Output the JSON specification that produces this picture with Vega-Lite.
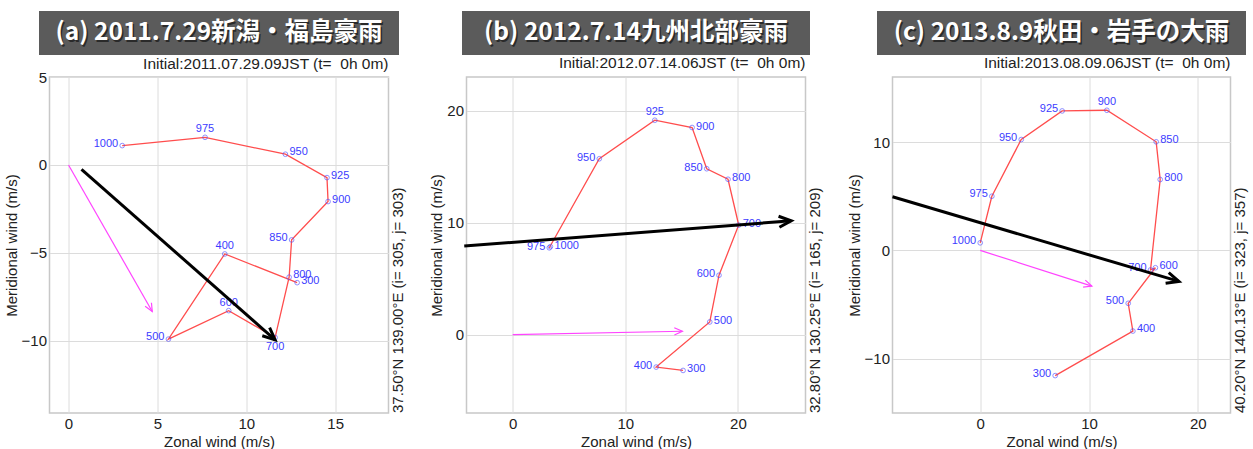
{
  "$schema": "https://vega.github.io/schema/vega-lite/v6.json",
  "background": "white",
  "padding": {"top": 11, "left": 3, "right": 0, "bottom": 0},
  "config": {
    "font": "Liberation Sans",
    "view": {"stroke": "#c8c8c8", "strokeWidth": 1.5},
    "axis": {"grid": true, "gridColor": "#dcdcdc", "gridWidth": 1, "domain": false, "ticks": false, "labelFont": "Liberation Sans", "labelFontSize": 15, "labelColor": "#222222", "titleFont": "Liberation Sans", "titleFontSize": 15, "titleFontWeight": "normal", "titleColor": "#222222", "labelPadding": 3},
    "axisX": {"titlePadding": 3},
    "axisY": {"titlePadding": 2},
    "title": {"font": "Liberation Sans", "fontSize": 15.5, "fontWeight": "normal", "color": "#222222", "anchor": "end", "frame": "group", "offset": 5.5}
  },
  "datasets": {
    "levels": [
      {"panel": "a", "p": 1000, "u": 3.02, "v": 1.10},
      {"panel": "a", "p": 975, "u": 7.68, "v": 1.57},
      {"panel": "a", "p": 950, "u": 12.2, "v": 0.61},
      {"panel": "a", "p": 925, "u": 14.54, "v": -0.72},
      {"panel": "a", "p": 900, "u": 14.6, "v": -2.08},
      {"panel": "a", "p": 850, "u": 12.55, "v": -4.26},
      {"panel": "a", "p": 800, "u": 12.41, "v": -6.38},
      {"panel": "a", "p": 700, "u": 11.62, "v": -9.81},
      {"panel": "a", "p": 600, "u": 9.01, "v": -8.28},
      {"panel": "a", "p": 500, "u": 5.62, "v": -9.9},
      {"panel": "a", "p": 400, "u": 8.79, "v": -5.06},
      {"panel": "a", "p": 300, "u": 12.86, "v": -6.69},
      {"panel": "b", "p": 1000, "u": 3.35, "v": 7.85},
      {"panel": "b", "p": 975, "u": 3.25, "v": 7.75},
      {"panel": "b", "p": 950, "u": 7.69, "v": 15.7},
      {"panel": "b", "p": 925, "u": 12.62, "v": 19.14},
      {"panel": "b", "p": 900, "u": 15.93, "v": 18.49},
      {"panel": "b", "p": 850, "u": 17.23, "v": 14.81},
      {"panel": "b", "p": 800, "u": 19.12, "v": 13.87},
      {"panel": "b", "p": 700, "u": 20.07, "v": 9.78},
      {"panel": "b", "p": 600, "u": 18.32, "v": 5.3},
      {"panel": "b", "p": 500, "u": 17.5, "v": 1.13},
      {"panel": "b", "p": 400, "u": 12.74, "v": -2.9},
      {"panel": "b", "p": 300, "u": 15.13, "v": -3.2},
      {"panel": "c", "p": 1000, "u": 0.0, "v": 0.7},
      {"panel": "c", "p": 975, "u": 1.07, "v": 5.0},
      {"panel": "c", "p": 950, "u": 3.77, "v": 10.23},
      {"panel": "c", "p": 925, "u": 7.53, "v": 12.87},
      {"panel": "c", "p": 900, "u": 11.64, "v": 12.93},
      {"panel": "c", "p": 850, "u": 16.17, "v": 10.02},
      {"panel": "c", "p": 800, "u": 16.54, "v": 6.54},
      {"panel": "c", "p": 700, "u": 15.65, "v": -1.8},
      {"panel": "c", "p": 600, "u": 16.1, "v": -1.6},
      {"panel": "c", "p": 500, "u": 13.6, "v": -4.88},
      {"panel": "c", "p": 400, "u": 14.03, "v": -7.44},
      {"panel": "c", "p": 300, "u": 6.89, "v": -11.55}
    ],
    "arrows": [
      {"panel": "a", "kind": "shear", "u": 0.73, "v": -0.25, "u2": 11.62, "v2": -9.94, "dir": 131.7},
      {"panel": "a", "kind": "storm", "u": 0, "v": 0, "u2": 4.71, "v2": -8.33, "dir": 150.5},
      {"panel": "b", "kind": "shear", "u": -4.3, "v": 7.9, "u2": 24.73, "v2": 10.16, "dir": 85.5},
      {"panel": "b", "kind": "storm", "u": 0, "v": 0, "u2": 15.07, "v2": 0.3, "dir": 88.9},
      {"panel": "c", "kind": "shear", "u": -8.06, "v": 4.95, "u2": 18.26, "v2": -2.86, "dir": 106.5},
      {"panel": "c", "kind": "storm", "u": 0, "v": 0, "u2": 10.26, "v2": -3.29, "dir": 107.8}
    ]
  },
  "spacing": 22,
  "hconcat": [
    {
      "vconcat": [
        {
          "width": 360, "height": 44,
          "view": {"fill": "#5b5b5b", "stroke": null},
          "data": {"values": [{"t": "(a) 2011.7.29新潟・福島豪雨"}]},
          "layer": [
            {"mark": {"type": "text", "font": "Noto Sans CJK JP", "fontWeight": "bold", "fontSize": 24.5, "color": "#1e1e1e", "dx": 1.5, "dy": 1.5, "opacity": 0.8}, "encoding": {"text": {"field": "t"}}},
            {"mark": {"type": "text", "font": "Noto Sans CJK JP", "fontWeight": "bold", "fontSize": 24.5, "color": "#ffffff"}, "encoding": {"text": {"field": "t"}}}
          ]
        },
        {
          "width": 339, "height": 336,
          "title": {"text": "Initial:2011.07.29.09JST (t= \u00a00h 0m)", "offset": -2},
          "layer": [
            {
              "data": {"name": "levels"}, "transform": [{"filter": "datum.panel == 'a'"}],
              "mark": {"type": "line", "color": "#ff4d4d", "strokeWidth": 1.3},
              "encoding": {
                "x": {"field": "u", "type": "quantitative", "title": "Zonal wind (m/s)", "scale": {"domain": [-1.07, 18], "nice": false, "zero": false}, "axis": {"values": [0, 5, 10, 15]}},
                "y": {"field": "v", "type": "quantitative", "title": "Meridional wind (m/s)", "scale": {"domain": [-14.1, 5], "nice": false, "zero": false}, "axis": {"values": [-10, -5, 0, 5]}},
                "order": {"field": "p", "sort": "descending"}
              }
            },
            {
              "data": {"name": "levels"}, "transform": [{"filter": "datum.panel == 'a'"}],
              "mark": {"type": "point", "color": "#5050ff", "size": 22, "strokeWidth": 0.9, "filled": false},
              "encoding": {"x": {"field": "u", "type": "quantitative", "title": "Zonal wind (m/s)"}, "y": {"field": "v", "type": "quantitative", "title": "Meridional wind (m/s)"}}
            },
            {
              "data": {"name": "levels"}, "transform": [{"filter": "datum.panel == 'a'"}, {"filter": {"field": "p", "oneOf": [1000, 850, 500]}}],
              "mark": {"type": "text", "color": "#3c3cff", "fontSize": 11, "align": "right", "baseline": "middle", "dx": -4, "dy": -2},
              "encoding": {"x": {"field": "u", "type": "quantitative", "title": "Zonal wind (m/s)"}, "y": {"field": "v", "type": "quantitative", "title": "Meridional wind (m/s)"}, "text": {"field": "p"}}
            },
            {
              "data": {"name": "levels"}, "transform": [{"filter": "datum.panel == 'a'"}, {"filter": {"field": "p", "oneOf": [950, 925, 900, 800, 300]}}],
              "mark": {"type": "text", "color": "#3c3cff", "fontSize": 11, "align": "left", "baseline": "middle", "dx": 4, "dy": -2},
              "encoding": {"x": {"field": "u", "type": "quantitative", "title": "Zonal wind (m/s)"}, "y": {"field": "v", "type": "quantitative", "title": "Meridional wind (m/s)"}, "text": {"field": "p"}}
            },
            {
              "data": {"name": "levels"}, "transform": [{"filter": "datum.panel == 'a'"}, {"filter": {"field": "p", "oneOf": [975, 400, 600]}}],
              "mark": {"type": "text", "color": "#3c3cff", "fontSize": 11, "align": "center", "baseline": "bottom", "dy": -3},
              "encoding": {"x": {"field": "u", "type": "quantitative", "title": "Zonal wind (m/s)"}, "y": {"field": "v", "type": "quantitative", "title": "Meridional wind (m/s)"}, "text": {"field": "p"}}
            },
            {
              "data": {"name": "levels"}, "transform": [{"filter": "datum.panel == 'a'"}, {"filter": {"field": "p", "oneOf": [700]}}],
              "mark": {"type": "text", "color": "#3c3cff", "fontSize": 11, "align": "center", "baseline": "top", "dy": 3},
              "encoding": {"x": {"field": "u", "type": "quantitative", "title": "Zonal wind (m/s)"}, "y": {"field": "v", "type": "quantitative", "title": "Meridional wind (m/s)"}, "text": {"field": "p"}}
            },
            {
              "data": {"name": "arrows"}, "transform": [{"filter": "datum.panel == 'a'"}],
              "mark": {"type": "rule"},
              "encoding": {
                "x": {"field": "u", "type": "quantitative", "title": "Zonal wind (m/s)"}, "y": {"field": "v", "type": "quantitative", "title": "Meridional wind (m/s)"},
                "x2": {"field": "u2"}, "y2": {"field": "v2"},
                "color": {"field": "kind", "type": "nominal", "scale": {"domain": ["shear", "storm"], "range": ["#000000", "#ff44ff"]}, "legend": null},
                "strokeWidth": {"field": "kind", "type": "ordinal", "scale": {"domain": ["shear", "storm"], "range": [3, 1.2]}, "legend": null}
              }
            },
            {
              "data": {"name": "arrows"}, "transform": [{"filter": "datum.panel == 'a'"}],
              "mark": {"type": "point", "shape": "M-0.45,1L0,0L0.45,1", "filled": false, "opacity": 1},
              "encoding": {
                "x": {"field": "u2", "type": "quantitative", "title": "Zonal wind (m/s)"}, "y": {"field": "v2", "type": "quantitative", "title": "Meridional wind (m/s)"},
                "angle": {"field": "dir", "type": "quantitative", "scale": null},
                "color": {"field": "kind", "type": "nominal", "scale": {"domain": ["shear", "storm"], "range": ["#000000", "#ff44ff"]}, "legend": null},
                "strokeWidth": {"field": "kind", "type": "ordinal", "scale": {"domain": ["shear", "storm"], "range": [3, 1.2]}, "legend": null},
                "size": {"field": "kind", "type": "ordinal", "scale": {"domain": ["shear", "storm"], "range": [600, 260]}, "legend": null}
              }
            },
            {
              "data": {"values": [{"loc": "37.50°N 139.00°E (i= 305, j= 303)"}]},
              "mark": {"type": "text", "angle": 270, "align": "left", "baseline": "top", "dy": 2, "fontSize": 15, "color": "#222222"},
              "encoding": {"x": {"datum": 18, "type": "quantitative"}, "y": {"datum": -14.1, "type": "quantitative"}, "text": {"field": "loc"}}
            }
          ]
        }
      ],
      "spacing": 22, "center": true, "bounds": "flush"
    },
    {
      "vconcat": [
        {
          "width": 348, "height": 44,
          "view": {"fill": "#5b5b5b", "stroke": null},
          "data": {"values": [{"t": "(b) 2012.7.14九州北部豪雨"}]},
          "layer": [
            {"mark": {"type": "text", "font": "Noto Sans CJK JP", "fontWeight": "bold", "fontSize": 24.5, "color": "#1e1e1e", "dx": 1.5, "dy": 1.5, "opacity": 0.8}, "encoding": {"text": {"field": "t"}}},
            {"mark": {"type": "text", "font": "Noto Sans CJK JP", "fontWeight": "bold", "fontSize": 24.5, "color": "#ffffff"}, "encoding": {"text": {"field": "t"}}}
          ]
        },
        {
          "width": 339, "height": 336,
          "title": {"text": "Initial:2012.07.14.06JST (t= \u00a00h 0m)"},
          "layer": [
            {
              "data": {"name": "levels"}, "transform": [{"filter": "datum.panel == 'b'"}],
              "mark": {"type": "line", "color": "#ff4d4d", "strokeWidth": 1.3},
              "encoding": {
                "x": {"field": "u", "type": "quantitative", "title": "Zonal wind (m/s)", "scale": {"domain": [-4.1, 26], "nice": false, "zero": false}, "axis": {"values": [0, 10, 20]}},
                "y": {"field": "v", "type": "quantitative", "title": "Meridional wind (m/s)", "scale": {"domain": [-7, 23], "nice": false, "zero": false}, "axis": {"values": [0, 10, 20]}},
                "order": {"field": "p", "sort": "descending"}
              }
            },
            {
              "data": {"name": "levels"}, "transform": [{"filter": "datum.panel == 'b'"}],
              "mark": {"type": "point", "color": "#5050ff", "size": 22, "strokeWidth": 0.9, "filled": false},
              "encoding": {"x": {"field": "u", "type": "quantitative", "title": "Zonal wind (m/s)"}, "y": {"field": "v", "type": "quantitative", "title": "Meridional wind (m/s)"}}
            },
            {
              "data": {"name": "levels"}, "transform": [{"filter": "datum.panel == 'b'"}, {"filter": {"field": "p", "oneOf": [975, 950, 850, 600, 400]}}],
              "mark": {"type": "text", "color": "#3c3cff", "fontSize": 11, "align": "right", "baseline": "middle", "dx": -4, "dy": -1},
              "encoding": {"x": {"field": "u", "type": "quantitative", "title": "Zonal wind (m/s)"}, "y": {"field": "v", "type": "quantitative", "title": "Meridional wind (m/s)"}, "text": {"field": "p"}}
            },
            {
              "data": {"name": "levels"}, "transform": [{"filter": "datum.panel == 'b'"}, {"filter": {"field": "p", "oneOf": [1000, 900, 800, 700, 500, 300]}}],
              "mark": {"type": "text", "color": "#3c3cff", "fontSize": 11, "align": "left", "baseline": "middle", "dx": 4, "dy": -1},
              "encoding": {"x": {"field": "u", "type": "quantitative", "title": "Zonal wind (m/s)"}, "y": {"field": "v", "type": "quantitative", "title": "Meridional wind (m/s)"}, "text": {"field": "p"}}
            },
            {
              "data": {"name": "levels"}, "transform": [{"filter": "datum.panel == 'b'"}, {"filter": {"field": "p", "oneOf": [925]}}],
              "mark": {"type": "text", "color": "#3c3cff", "fontSize": 11, "align": "center", "baseline": "bottom", "dy": -3},
              "encoding": {"x": {"field": "u", "type": "quantitative", "title": "Zonal wind (m/s)"}, "y": {"field": "v", "type": "quantitative", "title": "Meridional wind (m/s)"}, "text": {"field": "p"}}
            },
            {
              "data": {"name": "arrows"}, "transform": [{"filter": "datum.panel == 'b'"}],
              "mark": {"type": "rule"},
              "encoding": {
                "x": {"field": "u", "type": "quantitative", "title": "Zonal wind (m/s)"}, "y": {"field": "v", "type": "quantitative", "title": "Meridional wind (m/s)"},
                "x2": {"field": "u2"}, "y2": {"field": "v2"},
                "color": {"field": "kind", "type": "nominal", "scale": {"domain": ["shear", "storm"], "range": ["#000000", "#ff44ff"]}, "legend": null},
                "strokeWidth": {"field": "kind", "type": "ordinal", "scale": {"domain": ["shear", "storm"], "range": [3, 1.2]}, "legend": null}
              }
            },
            {
              "data": {"name": "arrows"}, "transform": [{"filter": "datum.panel == 'b'"}],
              "mark": {"type": "point", "shape": "M-0.45,1L0,0L0.45,1", "filled": false, "opacity": 1},
              "encoding": {
                "x": {"field": "u2", "type": "quantitative", "title": "Zonal wind (m/s)"}, "y": {"field": "v2", "type": "quantitative", "title": "Meridional wind (m/s)"},
                "angle": {"field": "dir", "type": "quantitative", "scale": null},
                "color": {"field": "kind", "type": "nominal", "scale": {"domain": ["shear", "storm"], "range": ["#000000", "#ff44ff"]}, "legend": null},
                "strokeWidth": {"field": "kind", "type": "ordinal", "scale": {"domain": ["shear", "storm"], "range": [3, 1.2]}, "legend": null},
                "size": {"field": "kind", "type": "ordinal", "scale": {"domain": ["shear", "storm"], "range": [600, 260]}, "legend": null}
              }
            },
            {
              "data": {"values": [{"loc": "32.80°N 130.25°E (i= 165, j= 209)"}]},
              "mark": {"type": "text", "angle": 270, "align": "left", "baseline": "top", "dy": 2, "fontSize": 15, "color": "#222222"},
              "encoding": {"x": {"datum": 26, "type": "quantitative"}, "y": {"datum": -7, "type": "quantitative"}, "text": {"field": "loc"}}
            }
          ]
        }
      ],
      "spacing": 22, "center": true, "bounds": "flush"
    },
    {
      "vconcat": [
        {
          "width": 369, "height": 44,
          "view": {"fill": "#5b5b5b", "stroke": null},
          "data": {"values": [{"t": "(c) 2013.8.9秋田・岩手の大雨"}]},
          "layer": [
            {"mark": {"type": "text", "font": "Noto Sans CJK JP", "fontWeight": "bold", "fontSize": 24.5, "color": "#1e1e1e", "dx": 1.5, "dy": 1.5, "opacity": 0.8}, "encoding": {"text": {"field": "t"}}},
            {"mark": {"type": "text", "font": "Noto Sans CJK JP", "fontWeight": "bold", "fontSize": 24.5, "color": "#ffffff"}, "encoding": {"text": {"field": "t"}}}
          ]
        },
        {
          "width": 338, "height": 336,
          "title": {"text": "Initial:2013.08.09.06JST (t= \u00a00h 0m)"},
          "layer": [
            {
              "data": {"name": "levels"}, "transform": [{"filter": "datum.panel == 'c'"}],
              "mark": {"type": "line", "color": "#ff4d4d", "strokeWidth": 1.3},
              "encoding": {
                "x": {"field": "u", "type": "quantitative", "title": "Zonal wind (m/s)", "scale": {"domain": [-8.06, 23], "nice": false, "zero": false}, "axis": {"values": [0, 10, 20]}},
                "y": {"field": "v", "type": "quantitative", "title": "Meridional wind (m/s)", "scale": {"domain": [-15, 16], "nice": false, "zero": false}, "axis": {"values": [-10, 0, 10]}},
                "order": {"field": "p", "sort": "descending"}
              }
            },
            {
              "data": {"name": "levels"}, "transform": [{"filter": "datum.panel == 'c'"}],
              "mark": {"type": "point", "color": "#5050ff", "size": 22, "strokeWidth": 0.9, "filled": false},
              "encoding": {"x": {"field": "u", "type": "quantitative", "title": "Zonal wind (m/s)"}, "y": {"field": "v", "type": "quantitative", "title": "Meridional wind (m/s)"}}
            },
            {
              "data": {"name": "levels"}, "transform": [{"filter": "datum.panel == 'c'"}, {"filter": {"field": "p", "oneOf": [1000, 975, 950, 925, 700, 500, 300]}}],
              "mark": {"type": "text", "color": "#3c3cff", "fontSize": 11, "align": "right", "baseline": "middle", "dx": -4, "dy": -2},
              "encoding": {"x": {"field": "u", "type": "quantitative", "title": "Zonal wind (m/s)"}, "y": {"field": "v", "type": "quantitative", "title": "Meridional wind (m/s)"}, "text": {"field": "p"}}
            },
            {
              "data": {"name": "levels"}, "transform": [{"filter": "datum.panel == 'c'"}, {"filter": {"field": "p", "oneOf": [850, 800, 600, 400]}}],
              "mark": {"type": "text", "color": "#3c3cff", "fontSize": 11, "align": "left", "baseline": "middle", "dx": 4, "dy": -2},
              "encoding": {"x": {"field": "u", "type": "quantitative", "title": "Zonal wind (m/s)"}, "y": {"field": "v", "type": "quantitative", "title": "Meridional wind (m/s)"}, "text": {"field": "p"}}
            },
            {
              "data": {"name": "levels"}, "transform": [{"filter": "datum.panel == 'c'"}, {"filter": {"field": "p", "oneOf": [900]}}],
              "mark": {"type": "text", "color": "#3c3cff", "fontSize": 11, "align": "center", "baseline": "bottom", "dy": -3},
              "encoding": {"x": {"field": "u", "type": "quantitative", "title": "Zonal wind (m/s)"}, "y": {"field": "v", "type": "quantitative", "title": "Meridional wind (m/s)"}, "text": {"field": "p"}}
            },
            {
              "data": {"name": "arrows"}, "transform": [{"filter": "datum.panel == 'c'"}],
              "mark": {"type": "rule"},
              "encoding": {
                "x": {"field": "u", "type": "quantitative", "title": "Zonal wind (m/s)"}, "y": {"field": "v", "type": "quantitative", "title": "Meridional wind (m/s)"},
                "x2": {"field": "u2"}, "y2": {"field": "v2"},
                "color": {"field": "kind", "type": "nominal", "scale": {"domain": ["shear", "storm"], "range": ["#000000", "#ff44ff"]}, "legend": null},
                "strokeWidth": {"field": "kind", "type": "ordinal", "scale": {"domain": ["shear", "storm"], "range": [3, 1.2]}, "legend": null}
              }
            },
            {
              "data": {"name": "arrows"}, "transform": [{"filter": "datum.panel == 'c'"}],
              "mark": {"type": "point", "shape": "M-0.45,1L0,0L0.45,1", "filled": false, "opacity": 1},
              "encoding": {
                "x": {"field": "u2", "type": "quantitative", "title": "Zonal wind (m/s)"}, "y": {"field": "v2", "type": "quantitative", "title": "Meridional wind (m/s)"},
                "angle": {"field": "dir", "type": "quantitative", "scale": null},
                "color": {"field": "kind", "type": "nominal", "scale": {"domain": ["shear", "storm"], "range": ["#000000", "#ff44ff"]}, "legend": null},
                "strokeWidth": {"field": "kind", "type": "ordinal", "scale": {"domain": ["shear", "storm"], "range": [3, 1.2]}, "legend": null},
                "size": {"field": "kind", "type": "ordinal", "scale": {"domain": ["shear", "storm"], "range": [600, 260]}, "legend": null}
              }
            },
            {
              "data": {"values": [{"loc": "40.20°N 140.13°E (i= 323, j= 357)"}]},
              "mark": {"type": "text", "angle": 270, "align": "left", "baseline": "top", "dy": 2, "fontSize": 15, "color": "#222222"},
              "encoding": {"x": {"datum": 23, "type": "quantitative"}, "y": {"datum": -15, "type": "quantitative"}, "text": {"field": "loc"}}
            }
          ]
        }
      ],
      "spacing": 22, "center": true, "bounds": "flush"
    }
  ]
}
